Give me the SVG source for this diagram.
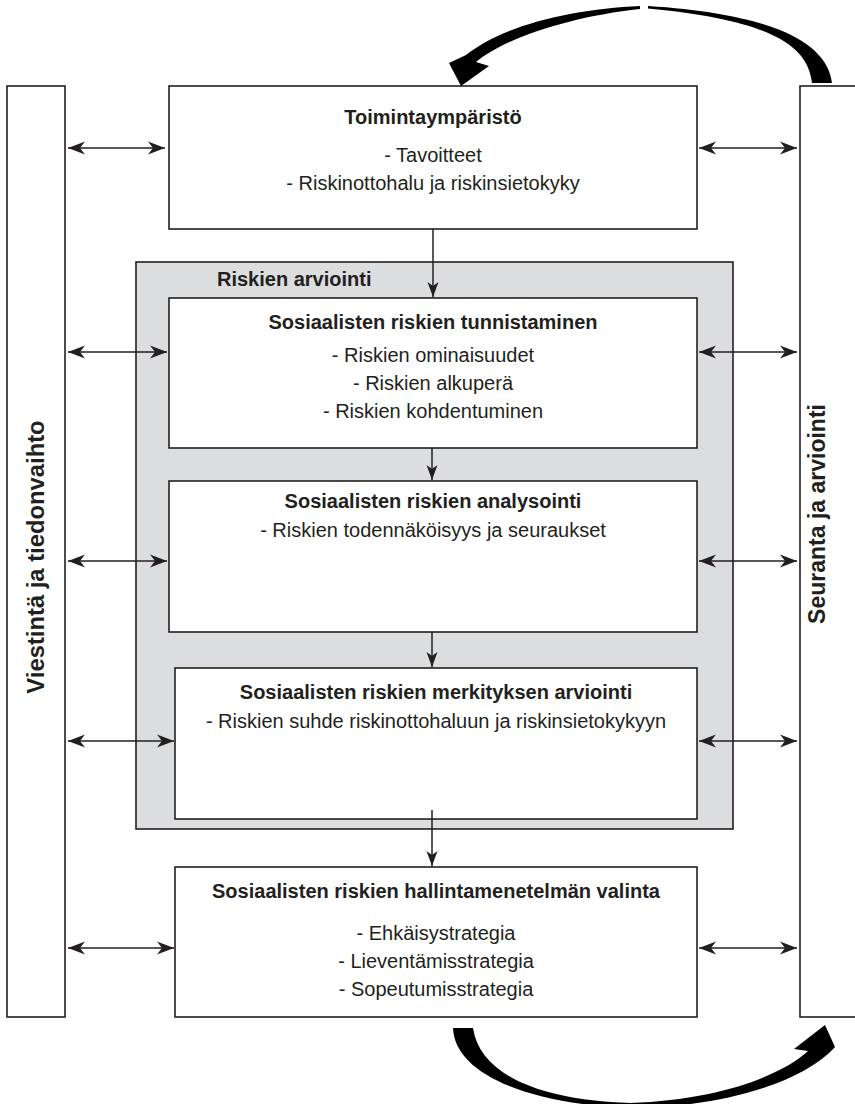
<svg xmlns="http://www.w3.org/2000/svg" width="855" height="1104" viewBox="0 0 855 1104">
<style>
.box{fill:#fff;stroke:#231f20;stroke-width:1.6}
.gray{fill:#dcdddf;stroke:#231f20;stroke-width:1.6}
.h{font-family:"Liberation Sans",Arial,sans-serif;font-weight:bold;font-size:20px;fill:#231f20;text-anchor:middle}
.t{font-family:"Liberation Sans",Arial,sans-serif;font-size:20px;fill:#231f20;text-anchor:middle}
.v{font-family:"Liberation Sans",Arial,sans-serif;font-weight:bold;font-size:23.5px;fill:#231f20;text-anchor:middle}
.c{stroke:#231f20;stroke-width:1.5;fill:none}
.big{fill:#000}
</style>
<defs>
<marker id="ah" markerUnits="userSpaceOnUse" markerWidth="18" markerHeight="14" viewBox="0 0 18 14" refX="17" refY="7" orient="auto-start-reverse">
<path d="M0,0.5 L17,7 L0,13.5 L5,7 Z" fill="#231f20"/>
</marker>
<marker id="av" markerUnits="userSpaceOnUse" markerWidth="16" markerHeight="12" viewBox="0 0 16 12" refX="15" refY="6" orient="auto">
<path d="M0,0.5 L15,6 L0,11.5 L4,6 Z" fill="#231f20"/>
</marker>
</defs>
<g id="viestinta">
<rect class="box" x="7" y="86" width="58" height="931"/>
<text class="v" transform="translate(44,557) rotate(-90)" style="font-size:23.8px">Viestintä ja tiedonvaihto</text>
</g>
<g id="seuranta">
<rect class="box" x="800" y="86" width="62" height="931"/>
<text class="v" transform="translate(825,514) rotate(-90)" style="font-size:23px">Seuranta ja arviointi</text>
</g>
<g id="toimintaymparisto">
<rect class="box" x="169" y="86" width="528" height="143"/>
<text class="h" x="433" y="124">Toimintaympäristö</text>
<text class="t" x="433" y="162">- Tavoitteet</text>
<text class="t" x="433" y="190">- Riskinottohalu ja riskinsietokyky</text>
</g>
<g id="riskien-arviointi">
<rect class="gray" x="136" y="262" width="597" height="567"/>
<text class="h" x="217" y="286" style="text-anchor:start">Riskien arviointi</text>
</g>
<g id="tunnistaminen">
<rect class="box" x="169" y="298" width="528" height="150"/>
<text class="h" x="433" y="329">Sosiaalisten riskien tunnistaminen</text>
<text class="t" x="433" y="362">- Riskien ominaisuudet</text>
<text class="t" x="433" y="390">- Riskien alkuperä</text>
<text class="t" x="433" y="418">- Riskien kohdentuminen</text>
</g>
<g id="analysointi">
<rect class="box" x="169" y="481" width="528" height="151"/>
<text class="h" x="433" y="508">Sosiaalisten riskien analysointi</text>
<text class="t" x="433" y="537">- Riskien todennäköisyys ja seuraukset</text>
</g>
<g id="merkitys">
<rect class="box" x="175" y="668" width="522" height="151"/>
<text class="h" x="436" y="699">Sosiaalisten riskien merkityksen arviointi</text>
<text class="t" x="436" y="728">- Riskien suhde riskinottohaluun ja riskinsietokykyyn</text>
</g>
<g id="hallinta">
<rect class="box" x="175" y="867" width="522" height="150"/>
<text class="h" x="436" y="898">Sosiaalisten riskien hallintamenetelmän valinta</text>
<text class="t" x="436" y="940">- Ehkäisystrategia</text>
<text class="t" x="436" y="968">- Lieventämisstrategia</text>
<text class="t" x="436" y="996">- Sopeutumisstrategia</text>
</g>
<g id="connectors">
<line class="c" x1="68" y1="148" x2="165" y2="148" marker-start="url(#ah)" marker-end="url(#ah)"/>
<line class="c" x1="699" y1="148" x2="797" y2="148" marker-start="url(#ah)" marker-end="url(#ah)"/>
<line class="c" x1="68" y1="352" x2="167" y2="352" marker-start="url(#ah)" marker-end="url(#ah)"/>
<line class="c" x1="699" y1="352" x2="797" y2="352" marker-start="url(#ah)" marker-end="url(#ah)"/>
<line class="c" x1="68" y1="561" x2="167" y2="561" marker-start="url(#ah)" marker-end="url(#ah)"/>
<line class="c" x1="699" y1="561" x2="797" y2="561" marker-start="url(#ah)" marker-end="url(#ah)"/>
<line class="c" x1="68" y1="741" x2="174" y2="741" marker-start="url(#ah)" marker-end="url(#ah)"/>
<line class="c" x1="699" y1="741" x2="797" y2="741" marker-start="url(#ah)" marker-end="url(#ah)"/>
<line class="c" x1="68" y1="948" x2="174" y2="948" marker-start="url(#ah)" marker-end="url(#ah)"/>
<line class="c" x1="699" y1="948" x2="797" y2="948" marker-start="url(#ah)" marker-end="url(#ah)"/>
<line class="c" x1="433" y1="229" x2="433" y2="297" marker-end="url(#av)"/>
<line class="c" x1="432" y1="448" x2="432" y2="480" marker-end="url(#av)"/>
<line class="c" x1="432" y1="632" x2="432" y2="667" marker-end="url(#av)"/>
<line class="c" x1="432" y1="810" x2="432" y2="866" marker-end="url(#av)"/>
<path class="big" d="M832,83 C828,50 790,15 648,6 L648,8.5 C770,20 808,45 812,83 Z"/>
<path class="big" d="M640,6 C575,9 505,24 466,55 L449,63 L461,86 L489,66 L476,62 C508,36 575,16 640,9 Z"/>
<path class="big" d="M453,1028 C455,1075 530,1104 630,1108 C730,1107 805,1080 835,1047 L825,1025 L794,1049 L808,1051 C782,1075 720,1100 630,1103 C540,1100 480,1075 473,1028 Z"/>
</g>
</svg>
